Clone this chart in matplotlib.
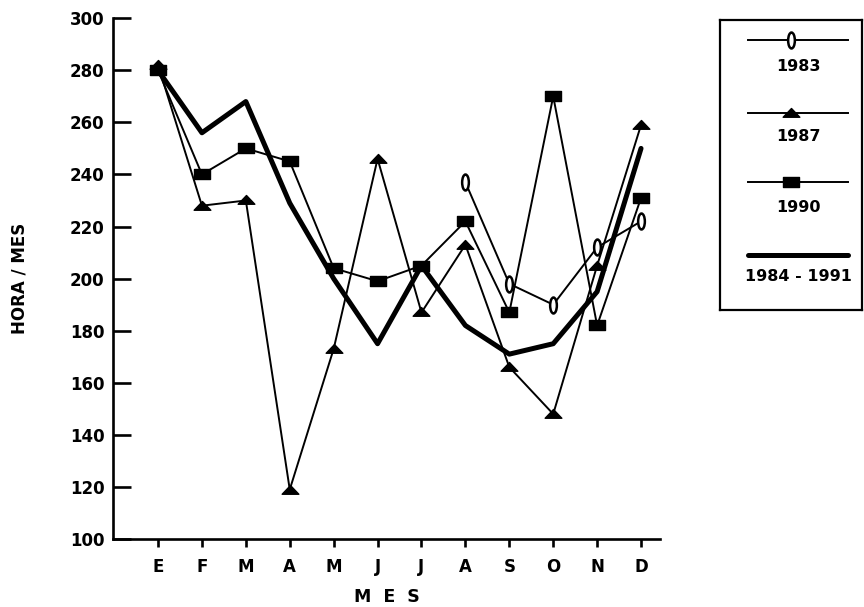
import numpy as np
import matplotlib
matplotlib.use("Agg")
import matplotlib.pyplot as plt
from matplotlib.path import Path
from matplotlib.transforms import Affine2D

# Data (hours of sunshine per month)
meses = ["E", "F", "M", "A", "M", "J", "J", "A", "S", "O", "N", "D"]
y1983 = [np.nan] * 7 + [237, 198, 190, 212, 222]
y1987 = [282, 228, 230, 119, 173, 246, 187, 213, 166, 148, 205, 259]
y1990 = [280, 240, 250, 245, 204, 199, 205, 222, 187, 270, 182, 231]
y8491 = [280, 256, 268, 229, 200, 175, 205, 182, 171, 175, 195, 250]

# custom marker shapes
oval = Path.unit_circle().transformed(Affine2D().scale(0.42, 1.0))
rect = Path.unit_rectangle().transformed(Affine2D().translate(-0.5, -0.5).scale(1.4, 1.0))
tri = Path([(-1, -0.45), (1, -0.45), (0, 0.6), (-1, -0.45)], closed=True)

styles = {
    "1983": dict(marker=oval, ms=11.5, mfc="white", mec="black", mew=1.8, lw=1.4, color="black"),
    "1987": dict(marker=tri, ms=12, mfc="black", mec="black", lw=1.4, color="black"),
    "1990": dict(marker=rect, ms=11, mfc="black", mec="black", lw=1.4, color="black"),
    "1984-1991": dict(marker=None, lw=3.6, color="black", solid_capstyle="round"),
}

fig = plt.figure(figsize=(8.64, 6.07), dpi=100)
ax = fig.add_axes([0.1308, 0.112, 0.633, 0.858])

x = np.arange(len(meses))
ax.plot(x, y8491, **styles["1984-1991"], zorder=3)
ax.plot(x, y1987, **styles["1987"], zorder=4)
ax.plot(x, y1990, **styles["1990"], zorder=5)
ax.plot(x, y1983, **styles["1983"], zorder=6)

ax.set_xlim(-1.025, 11.43)
ax.set_ylim(100, 300)
ax.set_xticks(x)
ax.set_xticklabels(meses)
ax.set_yticks(np.arange(100, 301, 20))

for s in ["top", "right"]:
    ax.spines[s].set_visible(False)
for s in ["left", "bottom"]:
    ax.spines[s].set_linewidth(1.9)

ax.tick_params(axis="y", direction="in", length=13, width=1.9, pad=6)
ax.tick_params(axis="x", direction="out", length=6, width=1.9, pad=8)
for lab in ax.get_xticklabels() + ax.get_yticklabels():
    lab.set_fontweight("bold")
    lab.set_fontsize(12)

ax.set_xlabel("M  E  S", fontsize=12.5, fontweight="bold", labelpad=8)
ax.set_ylabel("HORA / MES", fontsize=12, fontweight="bold", labelpad=30)

# legend box, drawn as its own small axes
lax = fig.add_axes([720 / 864, 1 - 310 / 607, 142 / 864, 290 / 607])
lax.set_xlim(0, 1)
lax.set_ylim(0, 1)
lax.set_xticks([])
lax.set_yticks([])
for s in lax.spines.values():
    s.set_linewidth(1.6)

rows = [("1983", 0.93, 0.84), ("1987", 0.68, 0.60), ("1990", 0.44, 0.355), ("1984-1991", 0.19, 0.115)]
for name, yl, yt in rows:
    st = dict(styles[name])
    st["markevery"] = [1]
    lax.plot([0.2, 0.5, 0.9], [yl, yl, yl], **st)
    lax.text(0.55, yt, name.replace("-", " - "), ha="center", va="center",
             fontsize=11.5, fontweight="bold")

fig.savefig("out.png", dpi=100)
